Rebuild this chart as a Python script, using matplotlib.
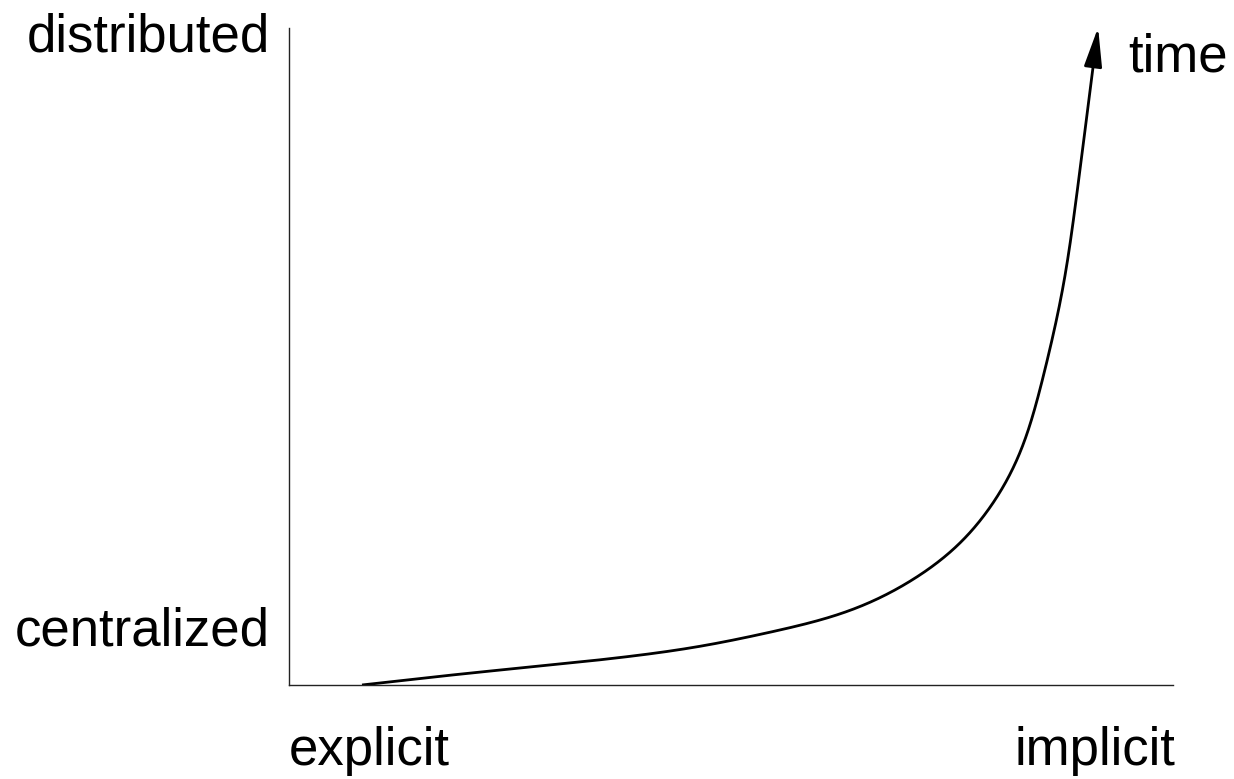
import matplotlib
matplotlib.use("Agg")
import matplotlib.pyplot as plt
import numpy as np

# Curve data (x: explicit -> implicit, y: centralized -> distributed), 0..100 scale
curve_x = [8.26, 20.48, 35.18, 46.49, 55.54, 61.54, 66.86, 72.51, 76.24, 79.30,
           81.56, 83.48, 84.95, 86.43, 87.78, 89.14, 90.95, 91.52]
curve_y = [0.0, 1.83, 3.81, 5.78, 8.37, 10.20, 12.94, 17.50, 21.31, 26.64,
           31.20, 37.29, 44.90, 52.97, 61.64, 74.89, 94.06, 100.0]

y_labels = ["centralized", "distributed"]
x_labels = ["explicit", "implicit"]
arrow_label = "time"

plt.rcParams['font.family'] = ['Liberation Sans', 'DejaVu Sans']

W, H = 1234, 779
fig = plt.figure(figsize=(W / 100, H / 100), dpi=100)
ax = fig.add_axes([289 / W, (H - 685) / H, (1173 - 289) / W, (685 - 28) / H])
ax.set_xlim(0, 100)
ax.set_ylim(0, 100)
ax.set_xticks([])
ax.set_yticks([])
for s in ["top", "right"]:
    ax.spines[s].set_visible(False)
for s in ["left", "bottom"]:
    ax.spines[s].set_linewidth(1.0)
    ax.spines[s].set_color("#222222")


def catmull(P, n=40, alpha=0.5):
    P = np.asarray(P, dtype=float)
    P = np.vstack([2 * P[0] - P[1], P, 2 * P[-1] - P[-2]])
    out = []
    for i in range(1, len(P) - 2):
        p0, p1, p2, p3 = P[i - 1], P[i], P[i + 1], P[i + 2]
        t0 = 0.0
        t1 = t0 + np.linalg.norm(p1 - p0) ** alpha
        t2 = t1 + np.linalg.norm(p2 - p1) ** alpha
        t3 = t2 + np.linalg.norm(p3 - p2) ** alpha
        t = np.linspace(t1, t2, n)[:, None]
        a1 = (t1 - t) / (t1 - t0) * p0 + (t - t0) / (t1 - t0) * p1
        a2 = (t2 - t) / (t2 - t1) * p1 + (t - t1) / (t2 - t1) * p2
        a3 = (t3 - t) / (t3 - t2) * p2 + (t - t2) / (t3 - t2) * p3
        b1 = (t2 - t) / (t2 - t0) * a1 + (t - t0) / (t2 - t0) * a2
        b2 = (t3 - t) / (t3 - t1) * a2 + (t - t1) / (t3 - t1) * a3
        c = (t2 - t) / (t2 - t1) * b1 + (t - t1) / (t2 - t1) * b2
        out.append(c if i == 1 else c[1:])
    return np.vstack(out)


def smooth_curve(P, sigma=36.0):
    """Spline through points, resampled by arc length and Gaussian-smoothed
    (drawing only; endpoints kept)."""
    P = catmull(P)
    seg = np.linalg.norm(np.diff(P, axis=0), axis=1)
    keep = np.concatenate([[True], seg > 1e-9])
    P = P[keep]
    seg = np.linalg.norm(np.diff(P, axis=0), axis=1)
    s = np.concatenate([[0], np.cumsum(seg)])
    su = np.append(np.arange(0, s[-1], 1.0), s[-1])
    x = np.interp(su, s, P[:, 0])
    y = np.interp(su, s, P[:, 1])
    pad = int(4 * sigma)
    d0 = np.array([x[5] - x[0], y[5] - y[0]]); d0 /= np.linalg.norm(d0)
    d1 = np.array([x[-1] - x[-6], y[-1] - y[-6]]); d1 /= np.linalg.norm(d1)
    r = np.arange(pad, 0, -1)
    xs = np.concatenate([x[0] - d0[0] * r, x, x[-1] + d1[0] * r[::-1]])
    ys = np.concatenate([y[0] - d0[1] * r, y, y[-1] + d1[1] * r[::-1]])
    kx = np.arange(-pad, pad + 1)
    g = np.exp(-0.5 * (kx / sigma) ** 2)
    g /= g.sum()
    xs = np.convolve(xs, g, mode="same")[pad:-pad]
    ys = np.convolve(ys, g, mode="same")[pad:-pad]
    return np.column_stack([xs, ys])


disp = ax.transData.transform(np.column_stack([curve_x, curve_y]))
sm = smooth_curve(disp)
pts = ax.transData.inverted().transform(sm)
k = 30  # ~px of curve replaced by the arrow head
ax.plot(pts[:-k, 0], pts[:-k, 1], color="black", lw=2.0, solid_capstyle="butt",
        solid_joinstyle="round")
ax.annotate("", xy=(pts[-1, 0], pts[-1, 1]), xytext=(pts[-k - 1, 0], pts[-k - 1, 1]),
            arrowprops=dict(arrowstyle="-|>,head_length=24,head_width=5.5",
                            mutation_scale=1, color="black", lw=2.0,
                            shrinkA=0, shrinkB=0))

fs = 38
def ftext(px, py, s, ha):
    fig.text(px / W, 1 - py / H, s, ha=ha, va="baseline", fontsize=fs)

ftext(270, 52, y_labels[1], "right")
ftext(270, 645, y_labels[0], "right")
ftext(289, 765, x_labels[0], "left")
ftext(1175, 765, x_labels[1], "right")
ftext(1128, 72, arrow_label, "left")

fig.savefig("out.png", dpi=100)
